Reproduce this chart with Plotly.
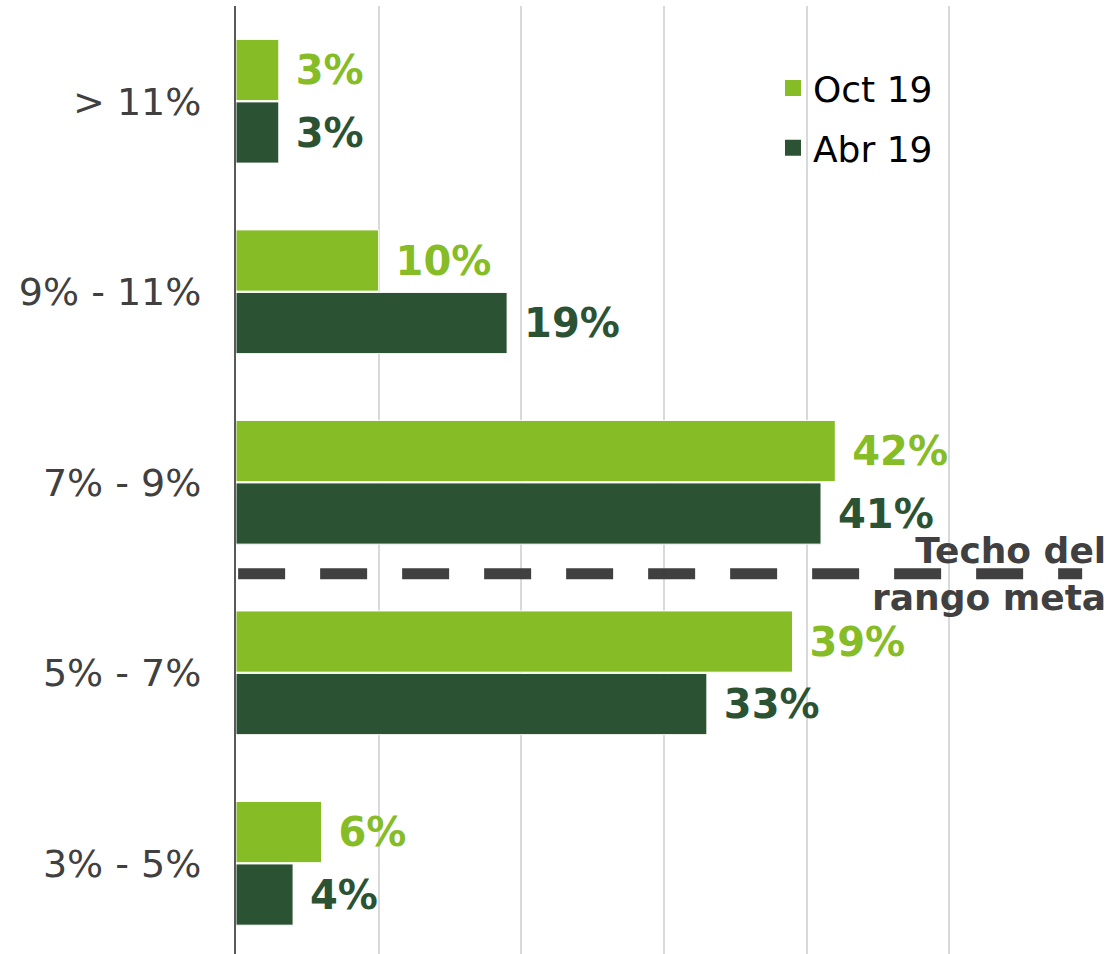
import plotly.graph_objects as go

categories = ["3% - 5%", "5% - 7%", "7% - 9%", "9% - 11%", "> 11%"]
oct19 = [6, 39, 42, 10, 3]
abr19 = [4, 33, 41, 19, 3]
series_names = ["Oct 19", "Abr 19"]
ceiling_label = "Techo del<br>rango meta"
ceiling_pos = 1.52

C_OCT = "#86BC25"
C_ABR = "#2C5234"
C_TXT = "#404040"
FONT = "DejaVu Sans"

fig = go.Figure()
fig.add_trace(go.Bar(
    y=categories, x=abr19, orientation="h", name=series_names[1],
    marker=dict(color=C_ABR, line=dict(color="white", width=1)),
    texttemplate="\u00a0%{x}%", textposition="outside", cliponaxis=False,
    constraintext="none",
    textfont=dict(family=FONT, size=40, color=C_ABR, weight="bold"),
    showlegend=False,
))
fig.add_trace(go.Bar(
    y=categories, x=oct19, orientation="h", name=series_names[0],
    marker=dict(color=C_OCT, line=dict(color="white", width=1)),
    texttemplate="\u00a0%{x}%", textposition="outside", cliponaxis=False,
    constraintext="none",
    textfont=dict(family=FONT, size=40, color=C_OCT, weight="bold"),
    showlegend=False,
))
# legend entries
fig.add_trace(go.Scatter(x=[None], y=[None], mode="markers", name=series_names[0],
                         legendgroup="a",
                         marker=dict(symbol="square", size=18, color=C_OCT)))
fig.add_trace(go.Scatter(x=[None], y=[None], mode="markers", name=series_names[1],
                         legendgroup="b",
                         marker=dict(symbol="square", size=18, color=C_ABR)))

fig.add_shape(type="line", xref="x", yref="y", x0=0.15, x1=59.3,
              y0=ceiling_pos, y1=ceiling_pos,
              line=dict(color=C_TXT, width=11, dash="47px,35px"))
fig.add_annotation(xref="paper", yref="y", x=1.027, y=ceiling_pos,
                   xanchor="right", yanchor="middle", align="right",
                   text=ceiling_label, showarrow=False,
                   font=dict(family=FONT, size=36, color=C_TXT, weight="bold"))

fig.update_layout(
    width=1113, height=954,
    margin=dict(l=236, r=28, t=6, b=0),
    paper_bgcolor="white", plot_bgcolor="white",
    barmode="group", bargap=0.344, bargroupgap=0.02,
    font=dict(family=FONT, color=C_TXT),
    legend=dict(x=0.6325, y=0.945, xanchor="left", yanchor="top",
                font=dict(family=FONT, size=36, color="#000000"),
                bgcolor="rgba(0,0,0,0)", tracegroupgap=10),
    xaxis=dict(range=[0, 59.5], dtick=10, tick0=0, showgrid=True,
               gridcolor="#d9d9d9", gridwidth=1.5, showticklabels=False,
               zeroline=False, ticks="", showline=False),
    yaxis=dict(type="category", categoryorder="array", categoryarray=categories,
               range=[-0.476, 4.5], showline=True, linecolor="#595959",
               linewidth=2, ticks="", ticklabelstandoff=25, showgrid=False,
               tickfont=dict(family=FONT, size=38, color=C_TXT)),
)

fig.write_html("out.html",
               config={"displayModeBar": False},
               post_script="document.body.style.margin='0';document.body.style.overflow='hidden';")
